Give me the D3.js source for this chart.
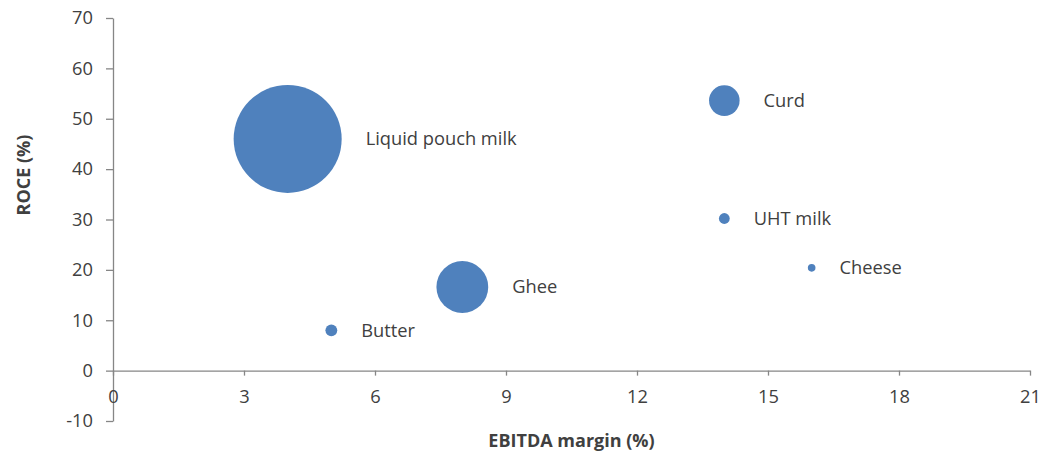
<!DOCTYPE html>
<html>
<head>
<meta charset="utf-8">
<script src="https://cdn.jsdelivr.net/npm/d3@7"></script>
<style>
  body { margin: 0; background: #fff; }
  svg text { font-family: "Open Sans", sans-serif; fill: #404040; }
  .axis path, .axis line { stroke: #868686; stroke-width: 1.3; }
  .axis text { font-size: 18.3px; fill: #404040; }
</style>
</head>
<body>
<div id="chart"></div>
<script>
var products = ["Liquid pouch milk", "Ghee", "Butter", "Curd", "UHT milk", "Cheese"];
var ebitdaMargin = [4, 8, 5, 14, 14, 16];
var roce = [46, 16.6, 8, 53.6, 30.2, 20.4];
var bubbleSize = [100, 23, 1.2, 8, 1.0, 0.5];
var xTicks = [0, 3, 6, 9, 12, 15, 18, 21];
var yTicks = [-10, 0, 10, 20, 30, 40, 50, 60, 70];

var width = 1059, height = 451;
var margin = {top: 18, right: 29, bottom: 30, left: 113};

var svg = d3.select("#chart").append("svg")
    .attr("width", width)
    .attr("height", height);

var x = d3.scaleLinear().domain([0, 21]).range([margin.left, width - margin.right]);
var y = d3.scaleLinear().domain([-10, 70]).range([height - margin.bottom, margin.top]);
var r = d3.scaleSqrt().domain([0, d3.max(bubbleSize)]).range([0, 54]);

// plain hyphen for negatives, like the original
var plain = function(d) { return String(d); };

// y axis
svg.append("g")
    .attr("class", "axis")
    .attr("transform", "translate(" + x(0) + ",0)")
    .call(d3.axisLeft(y).tickValues(yTicks).tickFormat(plain)
        .tickSizeInner(7).tickSizeOuter(0).tickPadding(13));

// x axis sits on y = 0
svg.append("g")
    .attr("class", "axis")
    .attr("transform", "translate(0," + y(0) + ")")
    .call(d3.axisBottom(x).tickValues(xTicks).tickFormat(plain)
        .tickSizeInner(5).tickSizeOuter(0).tickPadding(14));

var data = products.map(function(name, i) {
    return {name: name, x: ebitdaMargin[i], y: roce[i], s: bubbleSize[i]};
});

// biggest first so small ones stay on top
data.sort(function(a, b) { return b.s - a.s; });

svg.append("g").selectAll("circle")
    .data(data)
    .enter().append("circle")
    .attr("cx", function(d) { return x(d.x); })
    .attr("cy", function(d) { return y(d.y); })
    .attr("r", function(d) { return r(d.s); })
    .attr("fill", "#4f81bd");

svg.append("g").selectAll("text")
    .data(data)
    .enter().append("text")
    .attr("x", function(d) { return x(d.x) + r(d.s) + 24; })
    .attr("y", function(d) { return y(d.y); })
    .attr("dy", "0.35em")
    .style("font-size", "18.3px")
    .text(function(d) { return d.name; });

// axis titles
svg.append("text")
    .attr("x", (x(0) + x(21)) / 2)
    .attr("y", 447)
    .attr("text-anchor", "middle")
    .style("font-size", "18px")
    .style("font-weight", "bold")
    .text("EBITDA margin (%)");

svg.append("text")
    .attr("transform", "translate(29.5,175) rotate(-90)")
    .attr("text-anchor", "middle")
    .style("font-size", "18px")
    .style("font-weight", "bold")
    .text("ROCE (%)");
</script>
</body>
</html>
